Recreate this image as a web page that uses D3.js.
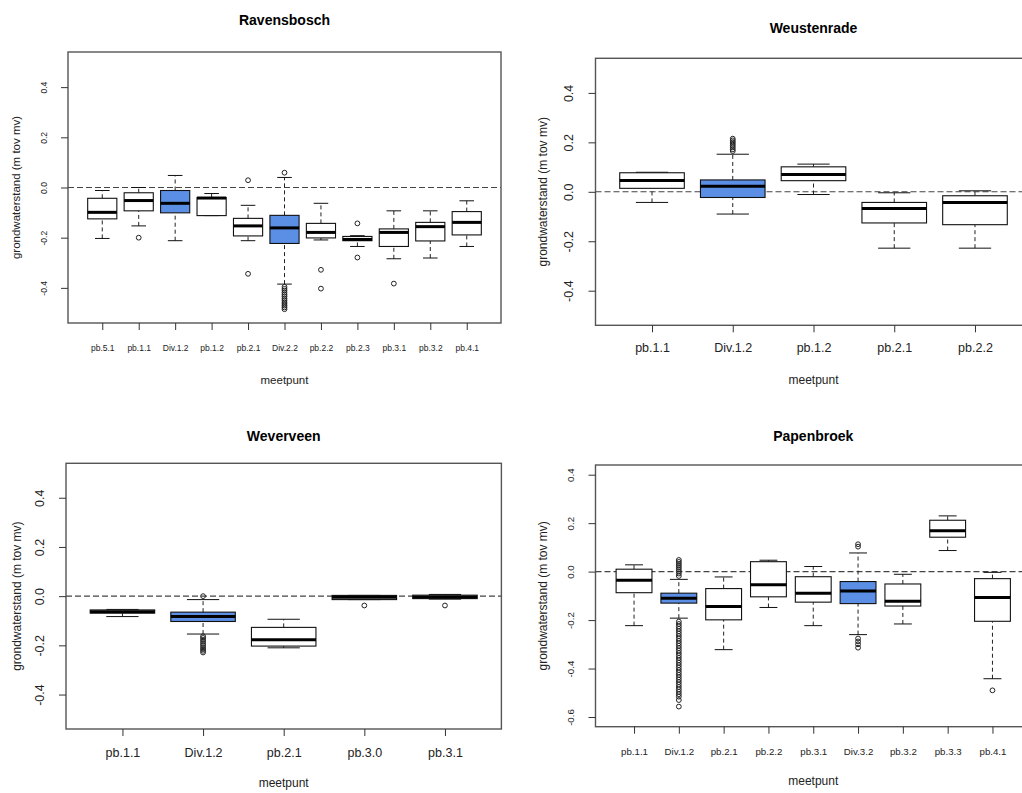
<!DOCTYPE html>
<html>
<head>
<meta charset="utf-8">
<script src="https://cdn.jsdelivr.net/npm/d3@7"></script>
<style>
  body { margin: 0; background: #fff; overflow: hidden; }
  svg { font-family: "Liberation Sans", Arial, sans-serif; }
</style>
</head>
<body>
<script>
// boxplot stats per meetpunt: [lower whisker, q1, median, q3, upper whisker]

let ravCats = ["pb.5.1", "pb.1.1", "Div.1.2", "pb.1.2", "pb.2.1", "Div.2.2", "pb.2.2", "pb.2.3", "pb.3.1", "pb.3.2", "pb.4.1"];
let ravStats = [
  [-0.203, -0.125, -0.099, -0.043, -0.012],
  [-0.153, -0.093, -0.052, -0.021, 0.0],
  [-0.212, -0.101, -0.063, -0.012, 0.048],
  [-0.112, -0.112, -0.042, -0.040, -0.024],
  [-0.212, -0.193, -0.153, -0.123, -0.071],
  [-0.385, -0.223, -0.161, -0.111, 0.040],
  [-0.209, -0.201, -0.179, -0.143, -0.063],
  [-0.235, -0.212, -0.207, -0.195, -0.192],
  [-0.284, -0.235, -0.179, -0.165, -0.093],
  [-0.281, -0.213, -0.156, -0.139, -0.093],
  [-0.235, -0.189, -0.139, -0.096, -0.053]
];
let ravOut = [
  [], [-0.20], [], [], [0.029, -0.344],
  [0.059, -0.396, -0.404, -0.411, -0.419, -0.427, -0.434, -0.442, -0.449, -0.457, -0.464, -0.471, -0.478, -0.485],
  [-0.328, -0.403], [-0.143, -0.279], [-0.383], [], []
];
let ravTicks = [-0.4, -0.2, 0.0, 0.2, 0.4];

let weuCats = ["pb.1.1", "Div.1.2", "pb.1.2", "pb.2.1", "pb.2.2"];
let weuStats = [
  [-0.043, 0.014, 0.046, 0.077, 0.079],
  [-0.090, -0.023, 0.022, 0.048, 0.152],
  [-0.011, 0.045, 0.070, 0.101, 0.112],
  [-0.228, -0.126, -0.068, -0.043, -0.004],
  [-0.228, -0.133, -0.043, -0.016, 0.004]
];
let weuOut = [[], [0.165, 0.172, 0.180, 0.187, 0.194, 0.201, 0.208, 0.215], [], [], []];
let weuTicks = [-0.4, -0.2, 0.0, 0.2, 0.4];

let wevCats = ["pb.1.1", "Div.1.2", "pb.2.1", "pb.3.0", "pb.3.1"];
let wevStats = [
  [-0.083, -0.069, -0.063, -0.056, -0.054],
  [-0.154, -0.103, -0.083, -0.065, -0.014],
  [-0.210, -0.203, -0.177, -0.127, -0.094],
  [-0.014, -0.014, -0.004, 0.003, 0.003],
  [-0.012, -0.010, -0.003, 0.004, 0.007]
];
let wevOut = [[], [0.0, -0.163, -0.170, -0.178, -0.185, -0.193, -0.200, -0.208, -0.215, -0.222, -0.229], [], [-0.038], [-0.038]];
let wevTicks = [-0.4, -0.2, 0.0, 0.2, 0.4];

let papCats = ["pb.1.1", "Div.1.2", "pb.2.1", "pb.2.2", "pb.3.1", "Div.3.2", "pb.3.2", "pb.3.3", "pb.4.1"];
let papStats = [
  [-0.223, -0.087, -0.036, 0.010, 0.028],
  [-0.192, -0.130, -0.110, -0.089, -0.032],
  [-0.322, -0.199, -0.144, -0.070, -0.022],
  [-0.148, -0.104, -0.054, 0.041, 0.047],
  [-0.223, -0.126, -0.089, -0.021, 0.021],
  [-0.260, -0.132, -0.080, -0.041, 0.077],
  [-0.216, -0.142, -0.122, -0.051, -0.011],
  [0.087, 0.142, 0.169, 0.212, 0.230],
  [-0.442, -0.205, -0.107, -0.029, -0.003]
];
let papOut = [
  [],
  [0.048, 0.040, 0.032, 0.024, 0.016, 0.008, 0.0, -0.008, -0.018,
   -0.206, -0.216, -0.226, -0.236, -0.246, -0.256, -0.266, -0.276, -0.286, -0.296, -0.306,
   -0.316, -0.326, -0.336, -0.346, -0.356, -0.366, -0.376, -0.386, -0.396, -0.406, -0.416,
   -0.426, -0.436, -0.446, -0.456, -0.466, -0.476, -0.486, -0.496, -0.506, -0.516, -0.530, -0.557],
  [], [], [],
  [0.113, 0.103, -0.276, -0.288, -0.300, -0.314],
  [], [], [-0.490]
];
let papTicks = [-0.6, -0.4, -0.2, 0.0, 0.2, 0.4];

let blue = "#5b8fe6";

let svg = d3.select("body").append("svg")
  .attr("width", 1022)
  .attr("height", 793);

drawPanel({title: "Ravensbosch", cats: ravCats, stats: ravStats, out: ravOut, ticks: ravTicks,
  ylim: [-0.5, 0.5], box: {left: 68, top: 52, right: 501, bottom: 323},
  titleY: 25, tickFont: 8.5, labelFont: 11.5, xlabY: 384, tickLabY: 351, ylabX: 20});
drawPanel({title: "Weustenrade", cats: weuCats, stats: weuStats, out: weuOut, ticks: weuTicks,
  ylim: [-0.5, 0.5], box: {left: 595.5, top: 58.3, right: 1031.5, bottom: 325.3},
  titleY: 33, tickFont: 12.5, labelFont: 12, xlabY: 384, tickLabY: 352.5, ylabX: 547});
drawPanel({title: "Weverveen", cats: wevCats, stats: wevStats, out: wevOut, ticks: wevTicks,
  ylim: [-0.5, 0.5], box: {left: 66, top: 463.3, right: 501.4, bottom: 729},
  titleY: 441, tickFont: 12.5, labelFont: 12, xlabY: 787, tickLabY: 757, ylabX: 21});
drawPanel({title: "Papenbroek", cats: papCats, stats: papStats, out: papOut, ticks: papTicks,
  ylim: [-0.6, 0.4], box: {left: 595.5, top: 465, right: 1031, bottom: 726.7},
  titleY: 441, tickFont: 9.7, labelFont: 12, xlabY: 785, tickLabY: 755, ylabX: 547});

function drawPanel(p) {
  let n = p.cats.length;
  let b = p.box;
  let g = svg.append("g");

  // R style 4% padding on both axes
  let x = d3.scaleLinear()
    .domain([0.5 - 0.04 * n, n + 0.5 + 0.04 * n])
    .range([b.left, b.right]);
  let yr = p.ylim[1] - p.ylim[0];
  let y = d3.scaleLinear()
    .domain([p.ylim[0] - 0.04 * yr, p.ylim[1] + 0.04 * yr])
    .range([b.bottom, b.top]);

  let unit = x(2) - x(1);
  let bw = unit * 0.8;

  // reference line at 0
  g.append("line")
    .attr("x1", b.left).attr("x2", b.right)
    .attr("y1", y(0)).attr("y2", y(0))
    .attr("stroke", "#444").attr("stroke-width", 1.1)
    .attr("stroke-dasharray", "6,3");

  let boxes = g.selectAll(".bp")
    .data(p.stats)
    .enter()
    .append("g")
    .attr("class", "bp")
    .attr("transform", function(d, i) { return `translate(${x(i + 1)},0)`; });

  // whiskers
  boxes.append("line")
    .attr("x1", 0).attr("x2", 0)
    .attr("y1", function(d) { return y(d[0]); })
    .attr("y2", function(d) { return y(d[1]); })
    .attr("stroke", "#222").attr("stroke-dasharray", "4,3");
  boxes.append("line")
    .attr("x1", 0).attr("x2", 0)
    .attr("y1", function(d) { return y(d[3]); })
    .attr("y2", function(d) { return y(d[4]); })
    .attr("stroke", "#222").attr("stroke-dasharray", "4,3");
  // staples
  [0, 4].forEach(function(k) {
    boxes.append("line")
      .attr("x1", -bw / 4).attr("x2", bw / 4)
      .attr("y1", function(d) { return y(d[k]); })
      .attr("y2", function(d) { return y(d[k]); })
      .attr("stroke", "#111");
  });

  boxes.append("rect")
    .attr("x", -bw / 2)
    .attr("width", bw)
    .attr("y", function(d) { return y(d[3]); })
    .attr("height", function(d) { return Math.max(y(d[1]) - y(d[3]), 0.5); })
    .attr("fill", function(d, i) { return p.cats[i].startsWith("Div") ? blue : "#fff"; })
    .attr("stroke", "#111").attr("stroke-width", 1.1);

  boxes.append("line")
    .attr("x1", -bw / 2).attr("x2", bw / 2)
    .attr("y1", function(d) { return y(d[2]); })
    .attr("y2", function(d) { return y(d[2]); })
    .attr("stroke", "#000").attr("stroke-width", 3);

  // outliers
  boxes.each(function(d, i) {
    d3.select(this).selectAll("circle")
      .data(p.out[i])
      .enter()
      .append("circle")
      .attr("cx", 0)
      .attr("cy", function(v) { return y(v); })
      .attr("r", 2.4)
      .attr("fill", "none")
      .attr("stroke", "#222").attr("stroke-width", 1);
  });

  // frame
  g.append("rect")
    .attr("x", b.left).attr("y", b.top)
    .attr("width", b.right - b.left).attr("height", b.bottom - b.top)
    .attr("fill", "none").attr("stroke", "#555").attr("stroke-width", 1.4);

  // x axis
  let xa = g.append("g")
    .attr("transform", `translate(0,${b.bottom})`)
    .call(d3.axisBottom(x)
      .tickValues(d3.range(1, n + 1))
      .tickFormat(function(i) { return p.cats[i - 1]; })
      .tickSize(7));
  xa.select(".domain").remove();
  xa.selectAll("line").attr("stroke", "#333");
  xa.selectAll("text")
    .attr("y", p.tickLabY - b.bottom)
    .attr("dy", 0)
    .attr("fill", "#222")
    .style("font-size", p.tickFont + "px");

  // y axis
  let ya = g.append("g")
    .attr("transform", `translate(${b.left},0)`)
    .call(d3.axisLeft(y)
      .tickValues(p.ticks)
      .tickFormat(function(v) { return v.toFixed(1); })
      .tickSize(7));
  ya.select(".domain").remove();
  ya.selectAll("line").attr("stroke", "#333");
  ya.selectAll("text")
    .attr("x", 0).attr("dy", 0)
    .attr("text-anchor", "middle")
    .attr("transform", `translate(${-(p.tickFont * 0.35 + 18)},0) rotate(-90)`)
    .attr("fill", "#222")
    .style("font-size", p.tickFont + "px");

  // labels
  let cx = (x(1) + x(n)) / 2;
  g.append("text")
    .attr("x", cx).attr("y", p.titleY)
    .attr("text-anchor", "middle")
    .style("font-weight", "bold")
    .style("font-size", "14px")
    .text(p.title);
  g.append("text")
    .attr("x", cx).attr("y", p.xlabY)
    .attr("text-anchor", "middle")
    .attr("fill", "#222")
    .style("font-size", p.labelFont + "px")
    .text("meetpunt");
  g.append("text")
    .attr("transform", `translate(${p.ylabX},${(b.top + b.bottom) / 2}) rotate(-90)`)
    .attr("text-anchor", "middle")
    .attr("fill", "#222")
    .style("font-size", p.labelFont + "px")
    .text("grondwaterstand (m tov mv)");
}
</script>
</body>
</html>
